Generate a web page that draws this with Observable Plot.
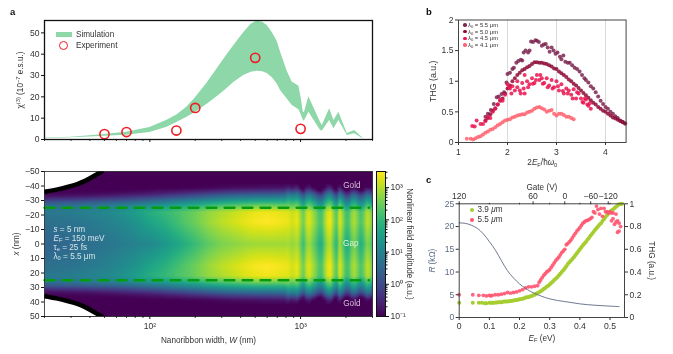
<!DOCTYPE html>
<html><head><meta charset="utf-8">
<script src="https://cdn.jsdelivr.net/npm/d3@7"></script>
<script src="https://cdn.jsdelivr.net/npm/@observablehq/plot@0.6"></script>
<style>
html,body{margin:0;padding:0;background:#fff;width:673px;height:354px;overflow:hidden}
#root{position:relative;width:673px;height:354px;font-family:"Liberation Sans",Arial,sans-serif;color:#333;filter:blur(0.35px)}
.abs{position:absolute;white-space:nowrap}
.panel{position:absolute}
.panel svg{overflow:visible}
.tag{position:absolute;font-weight:bold;font-size:9.5px;color:#111}
i{font-style:italic}
sub{font-size:70%;line-height:0;vertical-align:-0.25em}
</style></head><body><div id="root"></div>
<script>
// ---------- panel a ----------
const bandW    = [20,30,40,50,70,100,130,151,175,200,240,279,320,360,419,470,515,560,600,650,700,736,815,881,925,975,1012,1042,1060,1135,1357,1393,1559,1664,1794,2042,2285,2596];
const bandLow  = [0.4,0.8,1.2,1.5,2.0,3.3,5.8,8,10.3,12.7,16.5,20,23.5,26.7,30,31.5,32,31.8,31,29,26,23,19,16,15,14,11.5,9,8.5,12.8,4.2,4,8.9,5,8.9,1.9,2.7,0.3];
const bandHigh = [0.6,1.1,1.8,2.3,3.4,5.6,9,11.5,15,19.5,26.5,33,39,44,50,54,55.6,55,53.5,50,46,41,32,26.9,26,25,19,12.8,12.5,20,8,6.6,14.4,8.9,12.8,2.8,4.2,0.6];
const expW   = [50,70,150,200,500,1000];
const expVal = [2.5,3.5,4.2,14.8,38.3,5];
const widthMinor = [20,30,40,50,60,70,80,90,200,300,400,500,600,700,800,900,2000,3000];
const widthMajor = [100,1000];

// ---------- heat map: log10 of the nonlinear field amplitude ----------
const heatW = [20,26,34,45,60,80,100,130,165,200,250,300,360,430,500,600,700,780,
  832,871,912,955,1000,1047,1096,1148,1202,1258,1317,1379,1444,1512,1583,1657,1735,1816,1902,1991,2084,2182,2285,2392,2504,2622,2745,2874,3000];
const heatRowsAbsX = [0,15,22,26,29,31,33,35,37,39];
const lg0  = [.45,.5,.58,.68,.82,.98,1.1,1.4,1.75,2.05,2.4,2.6,2.7,2.8,2.85,2.85,2.85,2.85,
  2.92,2.74,2.83,2.92,2.42,2.06,2.69,2.83,2.51,2.24,1.88,1.79,2.38,2.87,2.96,2.33,1.88,2.87,2.38,1.79,1.79,2.33,2.51,2.15,1.79,2.06,2.6,2.51,2.06];
const lg15 = [.62,.68,.75,.88,1.05,1.3,1.6,1.9,2.25,2.5,2.85,3.05,3.2,3.35,3.45,3.5,3.45,3.4,
  3.37,3.19,3.28,3.37,2.87,2.51,3.14,3.28,2.96,2.69,2.33,2.24,2.83,3.32,3.41,2.78,2.33,3.32,2.83,2.24,2.24,2.78,2.96,2.6,2.24,2.51,3.05,2.96,2.51];
const lg22 = [.8,.85,.92,1.05,1.2,1.5,1.8,2.05,2.3,2.5,2.8,2.95,3.1,3.25,3.35,3.4,3.35,3.3,
  3.29,3.11,3.2,3.29,2.79,2.43,3.06,3.2,2.88,2.61,2.25,2.16,2.75,3.24,3.33,2.7,2.25,3.24,2.75,2.16,2.16,2.7,2.88,2.52,2.16,2.43,2.97,2.88,2.43];
const lg26 = [.7,.72,.78,.88,1,1.2,1.35,1.55,1.75,1.9,2.15,2.3,2.42,2.5,2.6,2.6,2.58,2.55,
  2.62,2.44,2.53,2.62,2.12,1.76,2.39,2.53,2.21,1.94,1.58,1.49,2.08,2.57,2.66,2.03,1.58,2.57,2.08,1.49,1.49,2.03,2.21,1.85,1.49,1.76,2.3,2.21,1.76];
const lg29 = [.17,.2,.25,.33,.42,.55,.7,.88,1.08,1.25,1.45,1.6,1.7,1.78,1.85,1.85,1.85,1.85,
  2.07,1.89,1.98,2.07,1.57,1.21,1.84,1.98,1.66,1.39,1.03,.94,1.53,2.02,2.11,1.48,1.03,2.02,1.53,.94,.94,1.48,1.66,1.3,.94,1.21,1.75,1.66,1.21];
const lg31 = [-.37,-.33,-.27,-.18,-.08,.06,.2,.38,.55,.7,.88,1,1.1,1.2,1.25,1.28,1.3,1.3,
  1.62,1.44,1.53,1.62,1.12,.76,1.39,1.53,1.21,.94,.58,.49,1.08,1.57,1.66,1.03,.58,1.57,1.08,.49,.49,1.03,1.21,.85,.49,.76,1.3,1.21,.76];
const lg33 = [-.78,-.75,-.72,-.64,-.55,-.42,-.3,-.12,.02,.17,.35,.5,.58,.63,.68,.7,.72,.75,
  1.17,.99,1.08,1.17,.67,.31,.94,1.08,.76,.49,.13,.04,.63,1.12,1.21,.58,.13,1.12,.63,.04,.04,.58,.76,.4,.04,.31,.85,.76,.31];
const lg35 = [-.95,-.93,-.92,-.9,-.85,-.78,-.7,-.57,-.45,-.33,-.2,-.1,0,.05,.1,.12,.15,.18,
  .62,.44,.53,.62,.12,-.24,.39,.53,.21,-.06,-.42,-.51,.08,.57,.66,.03,-.42,.57,.08,-.51,-.51,.03,.21,-.15,-.51,-.24,.3,.21,-.24];
const lg37 = [-1,-1,-1,-1,-.98,-.95,-.9,-.85,-.8,-.73,-.65,-.55,-.5,-.47,-.45,-.43,-.4,-.38,
  -.03,-.21,-.12,-.03,-.53,-.89,-.26,-.12,-.44,-.71,-1,-1,-.57,-.08,.01,-.62,-1,-.08,-.57,-1,-1,-.62,-.44,-.8,-1,-.89,-.35,-.44,-.89];
const lg39 = [-1,-1,-1,-1,-1,-1,-1,-1,-1,-.98,-.95,-.92,-.87,-.85,-.83,-.8,-.8,-.78,
  -.6,-.8,-.7,-.6,-1,-1,-.85,-.7,-1,-1,-1,-1,-1,-.65,-.6,-1,-1,-.65,-1,-1,-1,-1,-1,-1,-1,-1,-.9,-1,-1];
const heatFloor = -1;
const heatFloorRows = [42,50];
const goldEdgeW = [20,24,28.8,33,37.2,42,48];
const goldEdgeX = [36,37.5,39.5,41.3,43.5,46.5,50];
const gapLineW = [20,2850];
const xTicks = [-50,-40,-30,-20,-10,0,10,20,30,40,50];

// ---------- panel b: THG vs 2EF/hw0 ----------
const thg55 = [[1.55,.42],[1.6,.47],[1.66,.53],[1.72,.63],[1.78,.74],[1.82,.75],[1.88,.79],[1.93,.82],[1.98,.98],[2,1.12],[2.05,1.14],[2.1,1.2],[2.13,1.22],[2.18,1.3],[2.22,1.33],[2.27,1.35],[2.3,1.34],[2.33,1.47],[2.37,1.5],[2.42,1.47],[2.45,1.5],[2.48,1.65],[2.52,1.64],[2.57,1.67],[2.6,1.66],[2.64,1.64],[2.7,1.58],[2.74,1.6],[2.78,1.61],[2.82,1.55],[2.86,1.48],[2.9,1.55],[2.94,1.5],[2.98,1.45],[3.02,1.47],[3.07,1.4],[3.1,1.36],[3.14,1.42],[3.18,1.32],[3.23,1.3],[3.27,1.3],[3.32,1.26],[3.37,1.22],[3.42,1.2],[3.47,1.16],[3.52,1.1],[3.57,1.05],[3.6,1.02],[3.65,.98],[3.7,.92],[3.75,.88],[3.8,.82],[3.85,.75],[3.9,.68],[3.95,.63],[4,.58],[4.05,.55],[4.1,.5],[4.15,.47],[4.2,.43],[4.25,.4],[4.3,.36],[4.35,.34],[4.4,.31]];
const thg50 = [[1.55,.36],[1.6,.4],[1.65,.46],[1.7,.52],[1.75,.56],[1.8,.62],[1.85,.68],[1.9,.72],[1.95,.8],[2,.88],[2.05,.93],[2.1,1],[2.15,1.05],[2.2,1.1],[2.25,1.14],[2.3,1.18],[2.35,1.2],[2.4,1.23],[2.45,1.25],[2.5,1.28],[2.55,1.31],[2.6,1.31],[2.65,1.3],[2.7,1.3],[2.75,1.29],[2.8,1.28],[2.85,1.26],[2.9,1.24],[2.95,1.21],[3,1.2],[3.05,1.16],[3.1,1.13],[3.15,1.1],[3.2,1.07],[3.25,1.03],[3.3,1],[3.35,.96],[3.4,.93],[3.45,.89],[3.5,.85],[3.55,.81],[3.6,.77],[3.65,.73],[3.7,.69],[3.75,.65],[3.8,.62],[3.85,.58],[3.9,.55],[3.95,.52],[4,.5],[4.05,.47],[4.1,.44],[4.15,.41],[4.2,.39],[4.25,.37],[4.3,.35],[4.35,.33],[4.4,.31]];
const thg45 = [[1.28,.27],[1.33,.26],[1.37,.36],[1.45,.3],[1.5,.3],[1.55,.35],[1.6,.42],[1.65,.4],[1.7,.5],[1.75,.55],[1.8,.62],[1.85,.7],[1.9,.68],[1.95,.78],[2,.95],[2.03,.9],[2.05,.88],[2.08,.8],[2.1,.92],[2.15,.85],[2.2,.9],[2.2,1],[2.25,.85],[2.27,.8],[2.3,.97],[2.33,.88],[2.35,.8],[2.35,1.1],[2.4,1],[2.42,.9],[2.45,.95],[2.5,1.05],[2.52,.96],[2.55,.97],[2.58,1.02],[2.6,1.1],[2.65,1.02],[2.67,1.1],[2.7,1.05],[2.72,.96],[2.75,.97],[2.8,1.05],[2.82,.9],[2.85,.93],[2.9,1.02],[2.92,.88],[2.95,.9],[3,1],[3.03,.92],[3.05,.85],[3.1,.95],[3.13,.84],[3.15,.8],[3.2,.88],[3.23,.8],[3.25,.85],[3.3,.78],[3.33,.72],[3.35,.87],[3.4,.72],[3.42,.82],[3.45,.8],[3.5,.72],[3.53,.66],[3.55,.65],[3.58,.72],[3.6,.7],[3.63,.62],[3.65,.6],[3.68,.64],[3.7,.55]];
const thg41 = [[1.17,.06],[1.25,.06],[1.3,.05],[1.35,.07],[1.4,.09],[1.45,.1],[1.5,.13],[1.55,.16],[1.6,.18],[1.65,.21],[1.7,.22],[1.75,.25],[1.8,.28],[1.85,.3],[1.9,.33],[1.95,.36],[2,.37],[2.05,.38],[2.1,.41],[2.15,.42],[2.2,.44],[2.25,.45],[2.3,.46],[2.35,.46],[2.4,.49],[2.45,.5],[2.5,.52],[2.55,.55],[2.6,.57],[2.65,.58],[2.7,.56],[2.75,.54],[2.8,.5],[2.85,.52],[2.9,.53],[2.95,.47],[3,.44],[3.05,.47],[3.1,.47],[3.15,.45],[3.2,.42],[3.25,.42],[3.3,.4],[3.35,.38]];
const thgTicksX = [1,2,3,4];
const thgTicksY = [0,.5,1,1.5,2];
const thgGrid = [2,3,4];
const colB = {s55:"#7d2650",s50:"#8d0a36",s45:"#ea1450",s41:"#ff6270"};

// ---------- panel c ----------
const thgGreen = [[0,.13],[.045,.13],[.065,.13],[.075,.13],[.085,.125],[.09,.125],[.1,.13],[.105,.13],[.11,.13],[.115,.13],[.12,.132],[.125,.133],[.13,.134],[.135,.135],[.14,.135],[.145,.138],[.15,.14],[.155,.14],[.16,.14],[.165,.143],[.17,.145],[.175,.148],[.18,.15],[.185,.152],[.19,.155],[.195,.157],[.2,.16],[.205,.162],[.21,.165],[.215,.17],[.22,.175],[.225,.178],[.23,.18],[.235,.185],[.24,.19],[.245,.195],[.25,.2],[.255,.208],[.26,.215],[.265,.222],[.27,.23],[.275,.24],[.28,.25],[.285,.26],[.29,.27],[.295,.28],[.3,.29],[.305,.303],[.31,.315],[.315,.33],[.32,.34],[.325,.355],[.33,.37],[.335,.385],[.34,.4],[.345,.415],[.35,.43],[.355,.45],[.36,.47],[.365,.485],[.37,.5],[.375,.515],[.38,.53],[.385,.548],[.39,.565],[.395,.583],[.4,.6],[.405,.618],[.41,.635],[.415,.65],[.42,.665],[.425,.683],[.43,.7],[.435,.718],[.44,.735],[.445,.753],[.45,.77],[.455,.785],[.46,.8],[.465,.815],[.47,.83],[.475,.848],[.48,.865],[.485,.883],[.49,.9],[.495,.915],[.5,.93],[.505,.94],[.51,.95],[.515,.963],[.52,.975],[.525,.985],[.53,.995],[.535,.998],[.54,1]];
const thgRed = [[0,.2],[.045,.2],[.065,.195],[.08,.195],[.09,.19],[.1,.195],[.105,.19],[.11,.195],[.12,.2],[.13,.2],[.14,.205],[.15,.21],[.16,.22],[.17,.215],[.18,.22],[.19,.225],[.2,.235],[.21,.245],[.22,.26],[.23,.27],[.24,.27],[.25,.275],[.26,.28],[.265,.31],[.27,.33],[.275,.35],[.28,.37],[.285,.385],[.29,.4],[.295,.41],[.3,.42],[.305,.44],[.31,.46],[.315,.48],[.32,.5],[.325,.515],[.33,.53],[.335,.55],[.34,.57],[.345,.585],[.35,.6],[.355,.64],[.36,.65],[.365,.665],[.37,.68],[.375,.7],[.38,.72],[.385,.74],[.39,.76],[.395,.775],[.4,.79],[.405,.81],[.41,.83],[.415,.84],[.42,.85],[.425,.855],[.43,.86],[.435,.87],[.44,.88],[.445,.93],[.45,.92],[.455,.98],[.46,.95],[.465,.91],[.47,.96],[.475,.89],[.48,.96],[.485,.93],[.49,.93],[.495,.92],[.5,.93],[.505,.92],[.505,.85],[.51,.87],[.51,.92],[.515,.82],[.52,.84],[.52,.91],[.525,.75],[.525,.85],[.53,.76],[.53,.83],[.535,.8]];
const rEF = [0,.02,.04,.06,.08,.1,.12,.14,.16,.18,.2,.22,.25,.3,.35,.4,.45,.5,.53];
const rKOhm = [20.8,20.7,20.3,19.6,18.4,16.7,14.8,12.5,10.3,8.7,7.4,6.4,5.3,4.1,3.5,3,2.7,2.5,2.4];
const gatePos = [0,.245,.35,.436,.494];
const gateLabels = ["120","60","0","−60","−120"];
const efTicks = [0,.1,.2,.3,.4,.5];
const thgRightTicks = [0,.2,.4,.6,.8,1];
const rTicks = [0,5,10,15,20,25];

// ---------- helpers ----------
const root = document.getElementById("root");
const style = {fontFamily:"'Liberation Sans',Arial,sans-serif",fontSize:"8.6px",color:"#333",background:"transparent",overflow:"visible"};
function rich(svg){
  for(const el of svg.querySelectorAll("text,tspan")){
    if(el.children.length||!el.textContent.includes("{")) continue;
    const parts=el.textContent.split(/(\{[a-z]+:[^}]*\})/).filter(s=>s);
    el.textContent="";
    let off=0;
    for(const p of parts){
      const m=p.match(/^\{([a-z]+):([^}]*)\}$/);
      const t=document.createElementNS("http://www.w3.org/2000/svg","tspan");
      let next=0;
      if(m){
        t.textContent=m[2];
        if(m[1]==="i") t.setAttribute("font-style","italic");
        if(m[1]==="sub"){t.setAttribute("font-size","70%");next=1.8;}
        if(m[1]==="sup"){t.setAttribute("font-size","70%");next=-3;}
      } else t.textContent=p;
      if(next!==off) t.setAttribute("dy",next-off);
      off=next;
      el.appendChild(t);
    }
  }
}
function place(opts,left,top){
  const p=Plot.plot({style,...opts});
  rich(p);
  const d=document.createElement("div");
  d.className="panel";d.style.left=left+"px";d.style.top=top+"px";
  d.appendChild(p);root.appendChild(d);
}
function html(s,left,top,css=""){
  const d=document.createElement("div");
  d.className="abs";d.style.cssText=`left:${left}px;top:${top}px;${css}`;
  d.innerHTML=s;root.appendChild(d);
}
for(const [t,x,y] of [["a",10,6],["b",426,6],["c",426,174]]){
  const d=document.createElement("div");d.className="tag";d.textContent=t;d.style.left=x+"px";d.style.top=y+"px";root.appendChild(d);
}
const labelDark="#333";
const LF=8.2;

// ---------- panel a ----------
const bandData=d3.zip(bandW,bandLow,bandHigh);
const expData=d3.zip(expW,expVal);
place({width:372+18,height:150,marginLeft:44,marginRight:18,marginTop:20,marginBottom:11,
  x:{type:"log",domain:[20,3000],axis:null},
  y:{domain:[0,55.8],axis:null},
  marks:[
    Plot.areaY(bandData,{x:d=>d[0],y1:d=>d[1],y2:d=>d[2],fill:"#8dd7a9"}),
    Plot.dot(expData,{x:d=>d[0],y:d=>d[1],r:4.6,stroke:"#f01c24",strokeWidth:1.6,fill:"none"}),
    Plot.frame({stroke:"#111",strokeWidth:1.3}),
    Plot.axisX({anchor:"bottom",ticks:widthMinor,tickSize:1.8,tickFormat:()=>"",label:null,stroke:"#111"}),
    Plot.axisX({anchor:"bottom",ticks:widthMajor,tickSize:3,tickFormat:()=>"",label:null,stroke:"#111"}),
    Plot.axisY({anchor:"left",ticks:[0,10,20,30,40,50],tickSize:3,tickPadding:2,label:null,stroke:"#111"}),
    Plot.text(["χ{sup:(3)} (10{sup:−7} e.s.u.)"],{frameAnchor:"left",textAnchor:"middle",dx:-24,dy:0,rotate:-90,fontSize:LF,fill:labelDark})
  ]},0,0);
html("",56,32,"width:16px;height:5px;background:#8dd7a9");
html("Simulation",76,29.5,`font-size:${LF}px;line-height:10px`);
html("",58.6,40.6,"width:7.4px;height:7.4px;border:1.5px solid #f01c24;border-radius:50%");
html("Experiment",76,41,`font-size:${LF}px;line-height:10px`);

// ---------- heat map ----------
const heatRows=[lg0,lg15,lg22,lg26,lg29,lg31,lg33,lg35,lg37,lg39];
const heatData=[];
heatRows.forEach((row,r)=>row.forEach((v,c)=>{
  const ax=heatRowsAbsX[r];
  heatData.push({w:heatW[c],x:ax,v});
  if(ax) heatData.push({w:heatW[c],x:-ax,v});
}));
heatFloorRows.forEach(ax=>heatW.forEach(w=>{
  heatData.push({w,x:ax,v:heatFloor});heatData.push({w,x:-ax,v:heatFloor});
}));
const goldUp=d3.zip(goldEdgeW,goldEdgeX);
const heatColor={type:"linear",domain:[-1,3.5],scheme:"viridis"};
place({width:385,height:194,marginLeft:44,marginRight:13,marginTop:11,marginBottom:38,
  x:{type:"log",domain:[20,3000],axis:null},
  y:{domain:[-50,50],reverse:true,axis:null},
  color:heatColor,
  marks:[
    Plot.raster(heatData,{x:"w",y:"x",fill:"v",interpolate:"barycentric"}),
    ...[-1,1].map(s=>Plot.areaY(goldUp,{x:d=>d[0],y1:s*50,y2:d=>s*d[1],fill:"#fff"})),
    ...[-1,1].map(s=>Plot.line(goldUp,{x:d=>d[0],y:d=>s*d[1],stroke:"#000",strokeWidth:4.6,curve:"natural",clip:true})),
    ...[-25,25].map(v=>Plot.lineY(gapLineW,{x:d=>d,y:()=>v,stroke:"#069c12",strokeWidth:2.3,strokeDasharray:"10,8"})),
    Plot.text(["Gold"],{frameAnchor:"top-right",dx:-12,dy:11,fill:"#d9bfdc",fontSize:LF}),
    Plot.text(["Gap"],{frameAnchor:"right",dx:-14,dy:-1,fill:"#dff5c8",fontSize:LF}),
    Plot.text(["Gold"],{frameAnchor:"bottom-right",dx:-12,dy:-11,fill:"#d9bfdc",fontSize:LF}),
    Plot.text(["{i:s} = 5 nm"],{frameAnchor:"left",dx:9,dy:-15,textAnchor:"start",fill:"#d6e6ea",fontSize:LF}),
    Plot.text(["{i:E}{sub:F} = 150 meV"],{frameAnchor:"left",dx:9,dy:-6,textAnchor:"start",fill:"#d6e6ea",fontSize:LF}),
    Plot.text(["τ{sub:e} = 25 fs"],{frameAnchor:"left",dx:9,dy:3,textAnchor:"start",fill:"#d6e6ea",fontSize:LF}),
    Plot.text(["λ{sub:0} = 5.5 μm"],{frameAnchor:"left",dx:9,dy:12,textAnchor:"start",fill:"#d6e6ea",fontSize:LF}),
    Plot.frame({stroke:"#222",strokeWidth:.8}),
    Plot.axisX({anchor:"bottom",ticks:widthMinor,tickSize:1.8,tickFormat:()=>"",label:null,stroke:"#111"}),
    Plot.axisX({anchor:"bottom",ticks:widthMajor,tickSize:3,tickPadding:3.5,tickFormat:d=>d===100?"10²":"10³",label:null,stroke:"#111"}),
    Plot.axisY({anchor:"left",ticks:xTicks,tickSize:3,tickPadding:2,label:null,tickFormat:d=>d<0?"−"+(-d):""+d,stroke:"#111"}),
    Plot.text(["{i:x} (nm)"],{frameAnchor:"left",textAnchor:"middle",dx:-28,rotate:-90,fontSize:LF,fill:labelDark}),
    Plot.text(["Nanoribbon width, {i:W} (nm)"],{frameAnchor:"bottom",dy:26,fontSize:LF,fill:labelDark})
  ]},0,160);

// ---------- colour bar ----------
const cbMajor=[-1,0,1,2,3];
const cbLabels=["10⁻¹","10⁰","10¹","10²","10³"];
const cbMinor=[];
for(const k of [-1,0,1,2,3]) for(const m of [2,3,4,5,6,7,8,9]){const t=k+Math.log10(m);if(t<3.5)cbMinor.push(t);}
place({width:50,height:194,marginLeft:4,marginRight:37,marginTop:11,marginBottom:38,
  x:{domain:[0,1],axis:null},
  y:{domain:[-1,3.5],axis:null},
  color:heatColor,
  marks:[
    Plot.raster({x1:0,x2:1,y1:-1,y2:3.5,fill:(x,y)=>y}),
    Plot.frame({stroke:"#111",strokeWidth:1}),
    Plot.axisY({anchor:"right",ticks:cbMinor,tickSize:1.5,tickFormat:()=>"",label:null,stroke:"#111"}),
    Plot.axisY({anchor:"right",ticks:cbMajor,tickSize:3,tickPadding:2,tickFormat:d=>cbLabels[cbMajor.indexOf(d)],label:null,stroke:"#111"}),
    Plot.text(["Nonlinear field amplitude (a.u.)"],{frameAnchor:"right",textAnchor:"middle",dx:24,dy:0,rotate:90,fontSize:LF,fill:labelDark})
  ]},372,160);

// ---------- panel b ----------
const dotsB=(arr,c)=>Plot.dot(arr,{x:d=>d[0],y:d=>d[1],r:2,fill:c,fillOpacity:.85});
place({width:200.6,height:172,marginLeft:33,marginRight:0,marginTop:19.5,marginBottom:30,
  x:{domain:[1,4.42],axis:null},
  y:{domain:[0,2],axis:null},
  marks:[
    Plot.ruleX(thgGrid,{stroke:"#d6d6d6",strokeWidth:.9}),
    dotsB(thg55,colB.s55),dotsB(thg50,colB.s50),dotsB(thg45,colB.s45),dotsB(thg41,colB.s41),
    Plot.frame({stroke:"#444",strokeWidth:1}),
    Plot.axisX({anchor:"bottom",ticks:thgTicksX,tickSize:3,tickPadding:3.5,tickFormat:d=>""+d,label:null,stroke:"#333"}),
    Plot.axisY({anchor:"left",ticks:thgTicksY,tickSize:3,tickPadding:2,tickFormat:d=>""+d,label:null,stroke:"#333"}),
    Plot.text(["THG (a.u.)"],{frameAnchor:"left",textAnchor:"middle",dx:-25,rotate:-90,fontSize:8.8,fill:labelDark}),
    Plot.text(["2{i:E}{sub:F}/ħ{i:ω}{sub:0}"],{frameAnchor:"bottom",dy:23,fontSize:LF,fill:labelDark})
  ]},425,0);
const legB=[["5.5",colB.s55],["5.0",colB.s50],["4.5",colB.s45],["4.1",colB.s41]];
legB.forEach(([v,c],i)=>{
  const y=25+i*6.65;
  html("",463.2,y-1.8,`width:3.6px;height:3.6px;border-radius:50%;background:${c}`);
  html(`<i>λ</i><sub>0</sub> = ${v} μm`,468,y-3,"font-size:5.9px;line-height:6px");
});

// ---------- panel c ----------
const gateMap=new Map(gatePos.map((p,i)=>[p,gateLabels[i]]));
place({width:248,height:179,marginLeft:33.7,marginRight:49,marginTop:28.3,marginBottom:37,
  x:{domain:[0,.548],axis:null},
  y:{domain:[0,1],axis:null},
  marks:[
    Plot.dot(thgGreen,{x:d=>d[0],y:d=>d[1],r:2,fill:"#a6cd30"}),
    Plot.dot(thgRed,{x:d=>d[0],y:d=>d[1],r:1.9,fill:"#ff5470",fillOpacity:.9}),
    Plot.line(d3.zip(rEF,rKOhm),{x:d=>d[0],y:d=>d[1]/25,stroke:"#5d6b82",strokeWidth:.9,curve:"natural"}),
    Plot.frame({stroke:"#444",strokeWidth:1}),
    Plot.axisX({anchor:"bottom",ticks:efTicks,tickSize:3,tickPadding:2.5,tickFormat:d=>""+d,label:null,stroke:"#333"}),
    Plot.axisX({anchor:"top",ticks:efTicks,tickSize:1.5,tickFormat:()=>"",label:null,stroke:"#333"}),
    Plot.axisX({anchor:"top",ticks:gatePos,tickSize:3,tickPadding:1.5,tickFormat:d=>gateMap.get(d),label:null,stroke:"#333"}),
    Plot.axisY({anchor:"left",ticks:rTicks.map(d=>d/25),tickSize:3,tickPadding:2,tickFormat:d=>""+Math.round(d*25),label:null,stroke:"#333",fill:"#5d6b82"}),
    Plot.axisY({anchor:"right",ticks:thgRightTicks,tickSize:3,tickPadding:2,tickFormat:d=>""+d,label:null,stroke:"#333"}),
    Plot.text(["{i:R} (kΩ)"],{frameAnchor:"left",textAnchor:"middle",dx:-27,rotate:-90,fontSize:LF,fill:"#5d6b82"}),
    Plot.text(["THG (a.u.)"],{frameAnchor:"right",textAnchor:"middle",dx:27,rotate:90,fontSize:LF,fill:labelDark}),
    Plot.text(["{i:E}{sub:F} (eV)"],{frameAnchor:"bottom",dy:23,fontSize:LF,fill:labelDark}),
    Plot.text(["Gate (V)"],{frameAnchor:"top",dy:-20,fontSize:LF,fill:labelDark})
  ]},425,175);
html("",469.5,207.8,"width:4.4px;height:4.4px;border-radius:50%;background:#a6cd30");
html("3.9 <i>μ</i>m",477.5,205,`font-size:${LF}px;line-height:10px`);
html("",469.5,217.5,"width:4.4px;height:4.4px;border-radius:50%;background:#ff5470");
html("5.5 <i>μ</i>m",477.5,214.7,`font-size:${LF}px;line-height:10px`);
</script></body></html>
